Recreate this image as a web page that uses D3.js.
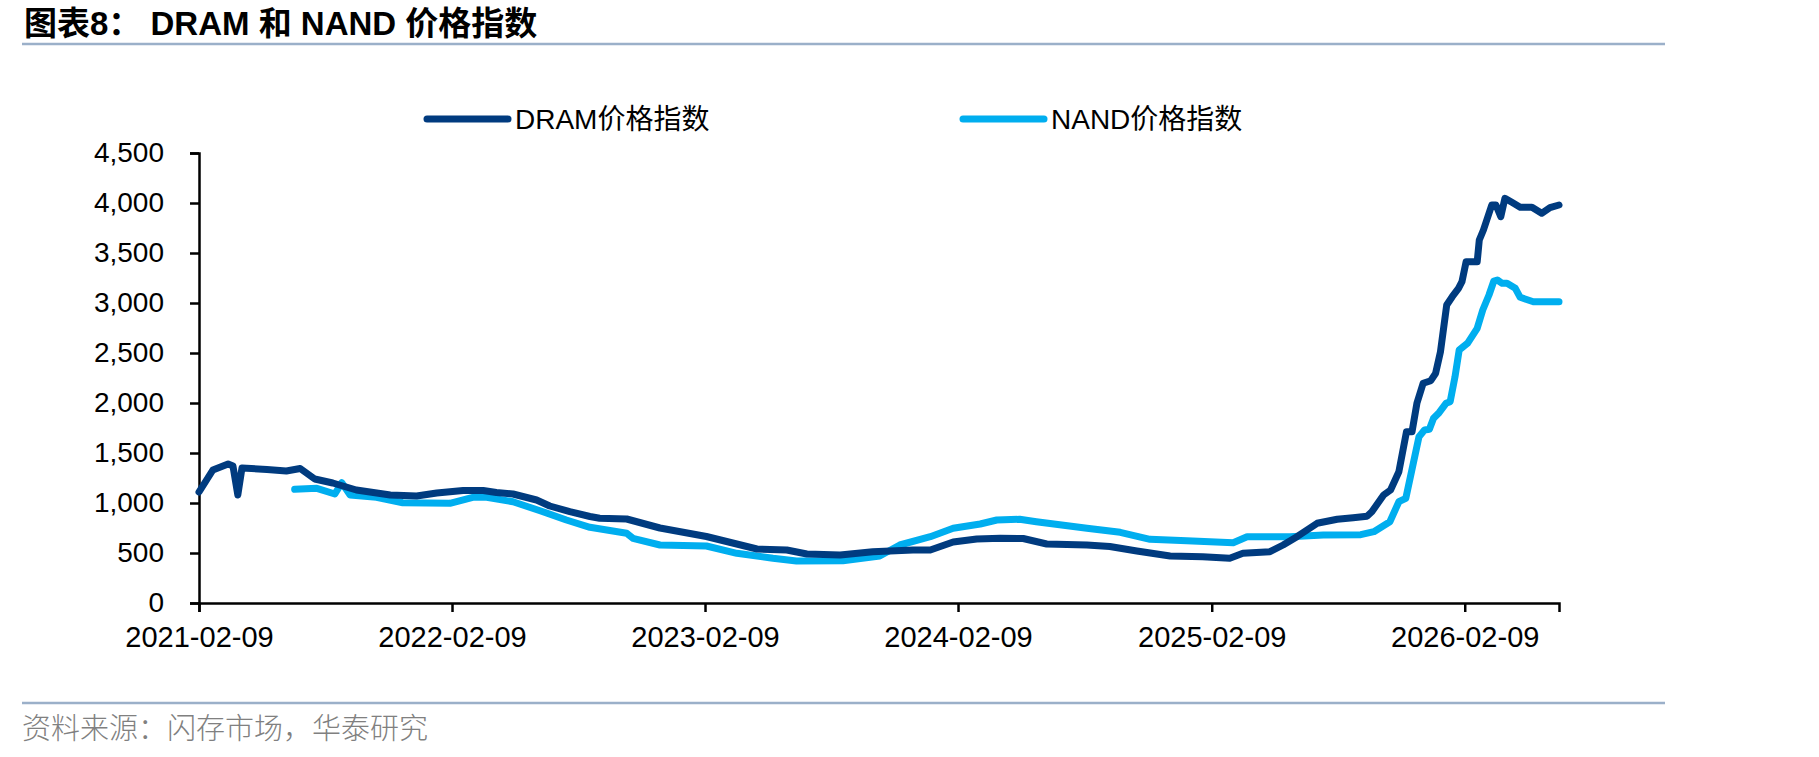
<!DOCTYPE html>
<meta charset="utf-8">
<script src="https://d3js.org/d3.v7.min.js"></script>
<html>
<head>
<style>
  body { margin: 0; background: #fff; }
  text { font-family: "Liberation Sans", Arial, "Noto Sans CJK SC", sans-serif; }
</style>
</head>
<body>
<div id="viz"></div>
<script>

// DRAM price index
const dramDates = ["2021-02-09","2021-03-01","2021-03-23","2021-03-30","2021-04-06","2021-04-12","2021-05-18","2021-06-15","2021-07-05","2021-07-26","2021-08-21","2021-09-24","2021-11-12","2021-12-20","2022-01-18","2022-02-25","2022-03-26","2022-04-14","2022-05-08","2022-06-11","2022-06-30","2022-07-29","2022-08-27","2022-09-10","2022-10-19","2022-12-06","2023-02-11","2023-04-25","2023-06-07","2023-07-06","2023-08-23","2023-10-09","2023-12-06","2023-12-31","2024-02-02","2024-03-07","2024-04-10","2024-05-13","2024-06-16","2024-08-13","2024-09-15","2024-10-24","2024-12-11","2025-01-27","2025-03-07","2025-03-26","2025-05-04","2025-05-23","2025-06-12","2025-07-11","2025-08-09","2025-09-01","2025-09-21","2025-09-28","2025-10-15","2025-10-25","2025-11-06","2025-11-17","2025-11-25","2025-12-02","2025-12-11","2025-12-22","2025-12-29","2026-01-05","2026-01-14","2026-01-22","2026-01-31","2026-02-05","2026-02-11","2026-02-27","2026-03-02","2026-03-08","2026-03-20","2026-03-26","2026-04-02","2026-04-08","2026-04-18","2026-04-30","2026-05-17","2026-05-31","2026-06-12","2026-06-25"];
const dramValues = [1110,1330,1390,1370,1080,1350,1335,1320,1345,1240,1200,1130,1080,1070,1100,1125,1125,1105,1090,1030,970,913,865,847,840,750,665,540,530,490,480,513,530,530,610,640,647,645,590,580,565,520,470,463,447,497,513,580,663,797,837,853,868,913,1080,1130,1313,1713,1713,1997,2197,2223,2297,2513,2980,3063,3147,3213,3413,3413,3630,3730,3980,3980,3863,4047,4007,3957,3957,3897,3953,3980];

// NAND price index (starts later)
const nandDates = ["2021-06-27","2021-07-29","2021-08-24","2021-09-03","2021-09-15","2021-10-23","2021-11-30","2022-02-06","2022-03-11","2022-03-31","2022-05-08","2022-06-16","2022-07-24","2022-08-27","2022-10-19","2022-10-28","2022-12-06","2023-02-11","2023-03-27","2023-05-18","2023-06-21","2023-08-27","2023-10-19","2023-11-17","2023-12-31","2024-02-02","2024-03-12","2024-04-05","2024-05-08","2024-06-01","2024-08-13","2024-09-30","2024-11-12","2025-01-04","2025-03-12","2025-04-01","2025-06-02","2025-07-20","2025-09-12","2025-10-01","2025-10-24","2025-11-06","2025-11-16","2025-12-05","2025-12-13","2025-12-20","2025-12-26","2026-01-03","2026-01-13","2026-01-19","2026-01-26","2026-02-01","2026-02-13","2026-02-27","2026-03-07","2026-03-16","2026-03-23","2026-03-28","2026-04-04","2026-04-11","2026-04-23","2026-04-30","2026-05-19","2026-06-25"];
const nandValues = [1137,1147,1090,1203,1080,1057,1003,997,1057,1057,1013,923,830,757,697,647,580,570,497,447,420,423,470,580,663,747,790,830,837,813,747,707,637,623,603,663,663,680,683,713,813,1013,1047,1663,1730,1737,1847,1903,1997,2013,2263,2530,2597,2747,2930,3080,3220,3230,3197,3197,3147,3057,3013,3013];

const xTickLabels = ["2021-02-09","2022-02-09","2023-02-09","2024-02-09","2025-02-09","2026-02-09"];
const yTicks = [0,500,1000,1500,2000,2500,3000,3500,4000,4500];
const seriesNames = ["DRAM价格指数","NAND价格指数"];

const W = 1819, H = 757;
const parse = d3.timeParse("%Y-%m-%d");

const svg = d3.select("#viz")
  .append("svg")
    .attr("width", W)
    .attr("height", H);

// plot area
const plot = {left: 199, right: 1559, top: 153, bottom: 603};

const x = d3.scaleTime()
  .domain([parse("2021-02-09"), parse("2026-06-25")])
  .range([plot.left, plot.right]);

const y = d3.scaleLinear()
  .domain([0, 4500])
  .range([plot.bottom, plot.top]);

// title + rule
svg.append("text")
  .attr("x", 24).attr("y", 35)
  .style("font-size", "33px").style("font-weight", "bold")
  .style("font-family", "'Liberation Sans', 'Noto Sans CJK SC', sans-serif")
  .text("图表8： DRAM 和 NAND 价格指数");
svg.append("line")
  .attr("x1", 22).attr("x2", 1665).attr("y1", 44).attr("y2", 44)
  .attr("stroke", "#9bb0c9").attr("stroke-width", 2.5);

// axes
const yAxis = svg.append("g")
  .attr("transform", `translate(${plot.left},0)`)
  .call(d3.axisLeft(y).tickValues(yTicks).tickFormat(d3.format(",")).tickSizeOuter(0).tickSize(9).tickPadding(26));

const xAxis = svg.append("g")
  .attr("transform", `translate(0,${plot.bottom})`)
  .call(d3.axisBottom(x).tickValues(xTickLabels.map(parse)).tickFormat(d3.timeFormat("%Y-%m-%d")).tickSizeOuter(0).tickSize(9).tickPadding(14));

svg.selectAll(".domain, .tick line")
  .attr("stroke", "#000").attr("stroke-width", 2.5);
yAxis.selectAll("text").style("font-size", "28px").attr("fill", "#000");
xAxis.selectAll("text").style("font-size", "29px").attr("fill", "#000");

// lines
const line = d3.line()
  .x(d => x(d[0]))
  .y(d => y(d[1]));

const dram = dramDates.map((d, i) => [parse(d), dramValues[i]]);
const nand = nandDates.map((d, i) => [parse(d), nandValues[i]]);
const colors = ["#003b7f", "#00aeef"];

svg.append("path").datum(nand)
  .attr("d", line).attr("fill", "none")
  .attr("stroke", colors[1]).attr("stroke-width", 7)
  .attr("stroke-linejoin", "round").attr("stroke-linecap", "round");

svg.append("path").datum(dram)
  .attr("d", line).attr("fill", "none")
  .attr("stroke", colors[0]).attr("stroke-width", 7)
  .attr("stroke-linejoin", "round").attr("stroke-linecap", "round");

// legend
const legendX = [427, 963];
seriesNames.forEach(function(name, i) {
  svg.append("line")
    .attr("x1", legendX[i]).attr("x2", legendX[i] + 81)
    .attr("y1", 119).attr("y2", 119)
    .attr("stroke", colors[i]).attr("stroke-width", 7)
    .attr("stroke-linecap", "round");
  svg.append("text")
    .attr("x", legendX[i] + 88).attr("y", 129)
    .style("font-size", "28px")
    .text(name);
});

// source
svg.append("line")
  .attr("x1", 22).attr("x2", 1665).attr("y1", 703).attr("y2", 703)
  .attr("stroke", "#9bb0c9").attr("stroke-width", 2.5);
svg.append("text")
  .attr("x", 22).attr("y", 739)
  .style("font-size", "29px")
  .style("font-family", "'Noto Sans CJK SC', sans-serif")
  .style("font-weight", 300)
  .attr("fill", "#808080")
  .text("资料来源：闪存市场，华泰研究");

</script>
</body>
</html>
